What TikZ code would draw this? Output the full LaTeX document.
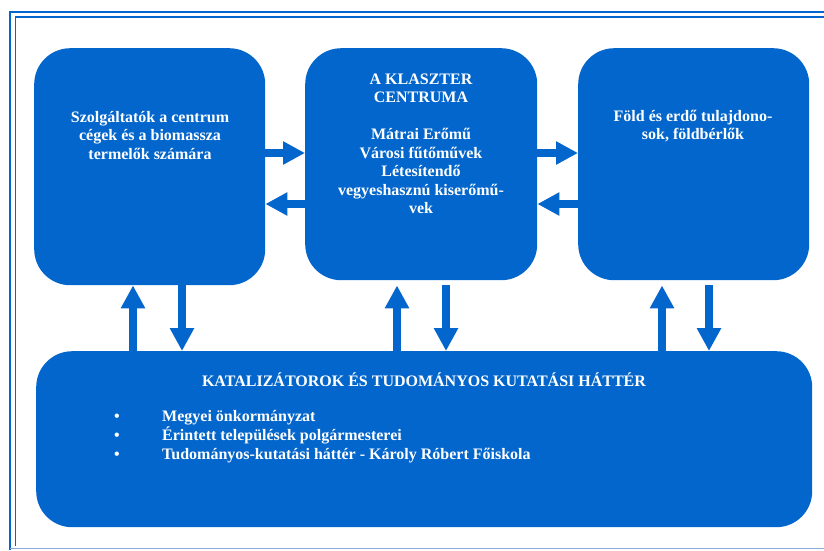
\documentclass[tikz,border=0pt]{standalone}
\usepackage{fontspec}
\setmainfont{Liberation Serif}
\usetikzlibrary{arrows.meta}
\definecolor{boxblue}{RGB}{3,102,204}
\definecolor{framelight}{RGB}{140,170,215}
\tikzset{
  box/.style={fill=boxblue, draw=none, rounded corners=36pt, anchor=north west, inner sep=0pt},
  txt/.style={text=white, font=\fontsize{16}{18.5}\selectfont\bfseries, align=center, inner sep=0pt},
  arr/.style={draw=boxblue, line width=8pt, -{Triangle[length=23pt,width=23pt]}},
  harr/.style={draw=boxblue, line width=8pt, -{Triangle[length=22pt,width=22pt]}},
}
\begin{document}
\begin{tikzpicture}[x=1pt,y=-1pt]
\useasboundingbox (0,0) rectangle (824,550);
% page frame
\draw[boxblue, line width=2.2pt] (10,550) -- (10,12) -- (824,12);
\draw[boxblue, line width=1.3pt] (15.5,546) -- (15.5,17) -- (824,17);
\draw[framelight, line width=1.2pt] (10,548.5) -- (824,548.5);
% boxes
\node[box, minimum width=231pt, minimum height=237pt] (L) at (34,48) {};
\node[box, minimum width=232pt, minimum height=232pt] (C) at (305,48) {};
\node[box, minimum width=231pt, minimum height=232pt] (R) at (578,48) {};
\node[box, minimum width=776pt, minimum height=176pt] (B) at (36,351) {};
% texts
\node[txt] (Lt) at (150,135.5) {Szolgáltatók a centrum\\cégek és a biomassza\\termelők számára};
\node[txt] (Ct) at (421,144) {A KLASZTER\\CENTRUMA\\[18.5pt]Mátrai Erőmű\\Városi fűtőművek\\Létesítendő\\vegyeshasznú kiserőmű-\\vek};
\node[txt] (Rt) at (693,126) {Föld és erdő tulajdono-\\sok, földbérlők};
\node[txt] (Bt) at (424,380) {KATALIZÁTOROK ÉS TUDOMÁNYOS KUTATÁSI HÁTTÉR};
\node[txt, font=\fontsize{16}{19}\selectfont\bfseries] (Bb) at (117,437) {•\\•\\•};
\node[txt, align=left, anchor=west, font=\fontsize{16}{19}\selectfont\bfseries] (Bl) at (162,437) {Megyei önkormányzat\\Érintett települések polgármesterei\\Tudományos-kutatási háttér - Károly Róbert Főiskola};
% horizontal arrows
\draw[harr] ([yshift=-105pt]L.north east) -- ([yshift=-105pt]C.north west);
\draw[harr] ([yshift=-156pt]C.north west) -- ([yshift=-156pt]L.north east);
\draw[harr] ([yshift=-105pt]C.north east) -- ([yshift=-105pt]R.north west);
\draw[harr] ([yshift=-156pt]R.north west) -- ([yshift=-156pt]C.north east);
% vertical arrows
\draw[arr] ([xshift=97pt]B.north west) -- ([xshift=99pt]L.south west);
\draw[arr] ([xshift=148pt]L.south west) -- ([xshift=146pt]B.north west);
\draw[arr] ([xshift=361pt]B.north west) -- ([xshift=92pt,yshift=-5pt]C.south west);
\draw[arr] ([xshift=141pt,yshift=-5pt]C.south west) -- ([xshift=410pt]B.north west);
\draw[arr] ([xshift=626pt]B.north west) -- ([xshift=84pt,yshift=-5pt]R.south west);
\draw[arr] ([xshift=131pt,yshift=-5pt]R.south west) -- ([xshift=673pt]B.north west);
\end{tikzpicture}
\end{document}
